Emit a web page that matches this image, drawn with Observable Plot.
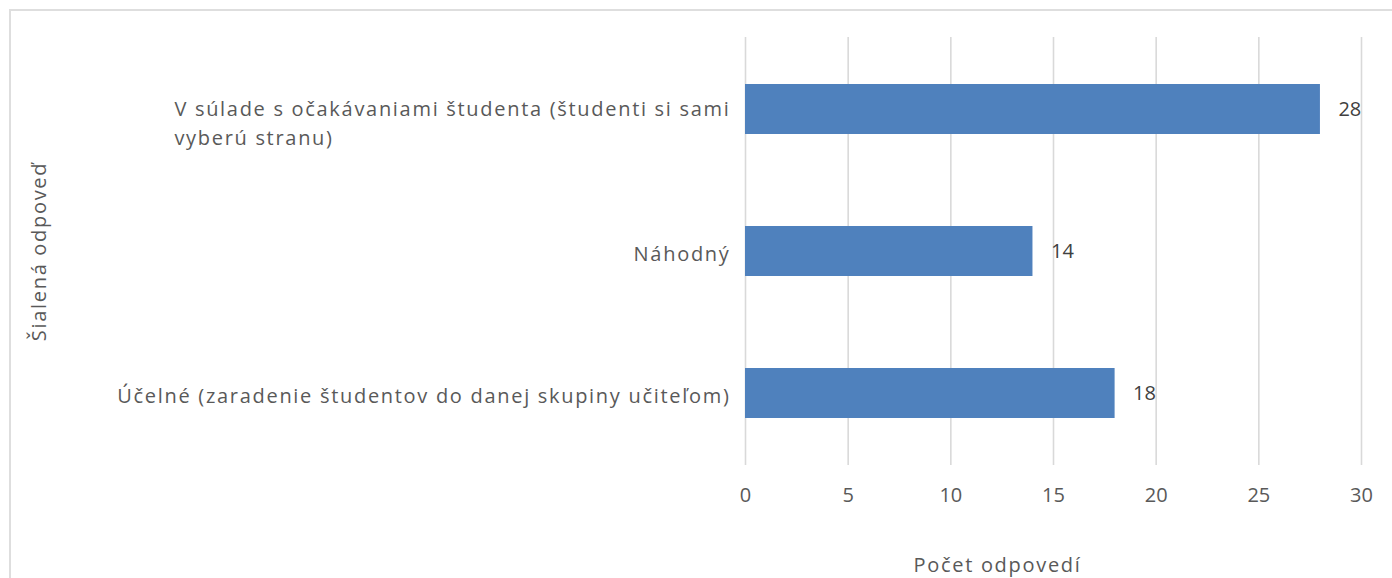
<!DOCTYPE html>
<html>
<head>
<meta charset="utf-8">
<script src="https://cdn.jsdelivr.net/npm/d3@7"></script>
<script src="https://cdn.jsdelivr.net/npm/@observablehq/plot@0.6"></script>
<style>
  html, body { margin: 0; padding: 0; background: #fff; }
  #wrap { position: relative; width: 1392px; height: 578px; overflow: hidden; }
  #border { position: absolute; left: 9px; top: 9px; width: 1500px; height: 700px;
            border-left: 2px solid #dedede; border-top: 2px solid #dedede; pointer-events: none; }
  svg { font-family: "Open Sans", sans-serif; }
  svg text { letter-spacing: 1.7px; }
  g[aria-label="x-axis tick label"] text { letter-spacing: 0; }
</style>
</head>
<body>
<div id="wrap"><div id="chart"></div><div id="border"></div></div>
<script>
const categories = [
  "V súlade s očakávaniami študenta (študenti si sami\nvyberú stranu)",
  "Náhodný",
  "Účelné (zaradenie študentov do danej skupiny učiteľom)"
];
const values = [28, 14, 18];
const xTicks = [0, 5, 10, 15, 20, 25, 30];
const xTitle = "Počet odpovedí";
const yTitle = "Šialená odpoveď";

const data = categories.map((c, i) => ({category: c, value: values[i]}));

const chart = Plot.plot({
  width: 1392,
  height: 578,
  marginLeft: 745,
  marginRight: 31,
  marginTop: 37,
  marginBottom: 113,
  style: {fontFamily: "'Open Sans', sans-serif", fontSize: "20px", color: "#595959", background: "#fff"},
  x: {domain: [0, 30]},
  y: {domain: categories, paddingInner: 0.65, paddingOuter: 0.325},
  marks: [
    Plot.gridX(xTicks, {stroke: "#d9d9d9", strokeOpacity: 1, strokeWidth: 1.6}),
    Plot.barX(data, {x: "value", y: "category", fill: "#4f81bd"}),
    Plot.text(data, {x: "value", y: "category", text: d => String(d.value), textAnchor: "start", dx: 18, fill: "#404040", fontSize: 20}),
    Plot.axisX({ticks: xTicks, tickSize: 0, tickPadding: 22, fill: "#595959", fontSize: 20,
      label: null}),
    Plot.text([xTitle], {frameAnchor: "bottom", lineAnchor: "middle", dy: 100, dx: -56, fill: "#595959", fontSize: 20}),
    Plot.axisY({tickSize: 0, tickPadding: 15, fill: "#595959", fontSize: 20, lineHeight: 1.45,
      label: yTitle, labelAnchor: "center", labelOffset: 714, labelArrow: "none"})
  ]
});
document.getElementById("chart").appendChild(chart);

// value labels: no extra letter spacing
const textGroups = chart.querySelectorAll('g[aria-label="text"]');
if (textGroups.length) textGroups[0].querySelectorAll("text").forEach(t => t.style.letterSpacing = "0");

// wrapped category label: left-aligned block, sitting slightly lower, like the reference
chart.querySelectorAll("text").forEach(t => {
  const spans = t.querySelectorAll("tspan");
  if (spans.length > 1) {
    const bb = t.getBBox();
    t.setAttribute("text-anchor", "start");
    spans.forEach(s => s.setAttribute("x", bb.x));
    const tr = t.getAttribute("transform") || "";
    t.setAttribute("transform", tr + " translate(0,12)");
  }
});
</script>
</body>
</html>
